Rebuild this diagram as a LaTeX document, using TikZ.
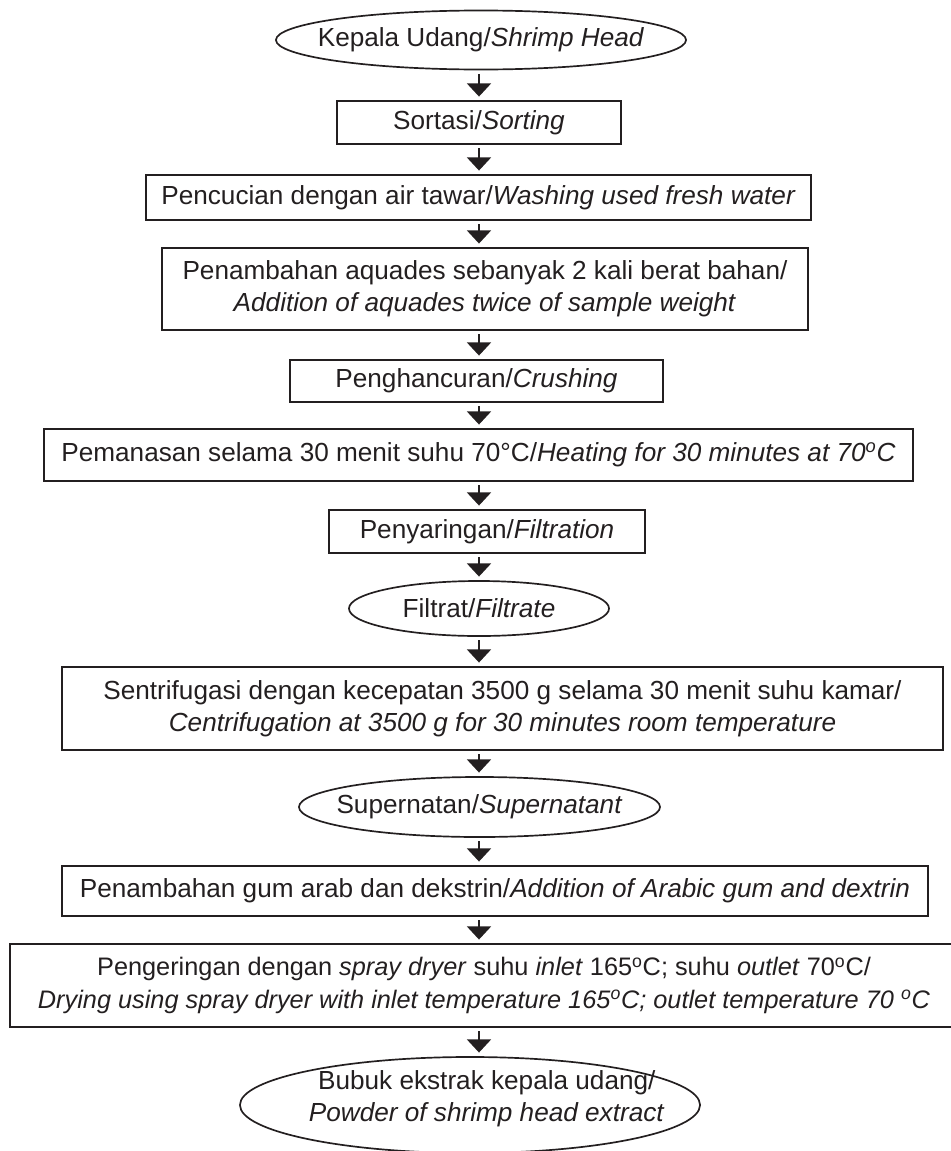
\documentclass[tikz,border=0pt]{standalone}
\usepackage{fontspec}
\setmainfont{Liberation Sans}
\usetikzlibrary{arrows.meta,shapes.geometric}
\definecolor{ink}{HTML}{231F20}

\begin{document}
\begin{tikzpicture}[x=0.025cm,y=-0.025cm,
    every node/.style={font=\fontsize{18.6}{23}\selectfont, text=ink, align=center, inner sep=0pt},
    stepbox/.style={draw=ink, line width=1.2pt, rectangle},
    endbox/.style={draw=ink, line width=1.2pt, ellipse},
    flow/.style={-{Triangle[width=0.6cm,length=0.33cm]}, draw=ink, line width=1.5pt,
        shorten <=0.9mm, shorten >=0.9mm}]
    \useasboundingbox (0,0) rectangle (951,1151);
    \coordinate (axis) at (479,0);

    % Steps, top to bottom
    \node[endbox, minimum width=10.25cm, minimum height=1.475cm,
        label={center:Kepala Udang/\textit{Shrimp Head}}] (head) at (481,40) {};
    \node[stepbox, minimum width=7.1cm, minimum height=1.075cm] (sort) at (479,122.5)
        {Sortasi/\textit{Sorting}};
    \node[stepbox, minimum width=16.625cm, minimum height=1.125cm] (wash) at (478.5,197.5)
        {Pencucian dengan air tawar/\textit{Washing used fresh water}};
    \node[stepbox, minimum width=16.15cm, minimum height=2.05cm] (aqua) at (485,289)
        {Penambahan aquades sebanyak 2 kali berat bahan/\\
         \textit{Addition of aquades twice of sample weight}};
    \node[stepbox, minimum width=9.325cm, minimum height=1.05cm] (crush) at (476.5,381)
        {Penghancuran/\textit{Crushing}};
    \node[stepbox, minimum width=21.725cm, minimum height=1.3cm] (heat) at (478.5,455)
        {Pemanasan selama 30 menit suhu 70°C/\textit{Heating for 30 minutes at 70\textsuperscript{o}C}};
    \node[stepbox, minimum width=7.9cm, minimum height=1.075cm] (filt) at (487,531.5)
        {Penyaringan/\textit{Filtration}};
    \node[endbox, minimum width=6.5cm, minimum height=1.375cm,
        label={center:Filtrat/\textit{Filtrate}}] (filtrate) at (479,608.5) {};
    \node[stepbox, minimum width=22.025cm, minimum height=2.075cm] (centri) at (502.5,708.5)
        {Sentrifugasi dengan kecepatan 3500 g selama 30 menit suhu kamar/\\
         \textit{Centrifugation at 3500 g for 30 minutes room temperature}};
    \node[endbox, minimum width=9.025cm, minimum height=1.5cm,
        label={center:Supernatan/\textit{Supernatant}}] (supern) at (479.5,807) {};
    \node[stepbox, minimum width=21.65cm, minimum height=1.25cm] (gum) at (495,891)
        {Penambahan gum arab dan dekstrin/\textit{Addition of Arabic gum and dextrin}};
    \node[stepbox, minimum width=23.7cm, minimum height=2.075cm,
        font=\fontsize{18}{23}\selectfont] (dry) at (484,985.5)
        {Pengeringan dengan \textit{spray dryer} suhu \textit{inlet} 165\textsuperscript{o}C; suhu \textit{outlet} 70\textsuperscript{o}C/\\
         \textit{Drying using spray dryer with inlet temperature 165\textsuperscript{o}C; outlet temperature 70 \textsuperscript{o}C}};
    \node[endbox, minimum width=11.5cm, minimum height=2.4cm,
        label={[xshift=0.42cm, yshift=0.15cm]center:Bubuk ekstrak kepala udang/\\ \textit{Powder of shrimp head extract}}]
        (powder) at (470,1105) {};

    % Arrows
    \draw[flow] (axis |- head.south) -- (axis |- sort.north);
    \draw[flow] (axis |- sort.south) -- (axis |- wash.north);
    \draw[flow] (axis |- wash.south) -- (axis |- aqua.north);
    \draw[flow] (axis |- aqua.south) -- (axis |- crush.north);
    \draw[flow] (axis |- crush.south) -- (axis |- heat.north);
    \draw[flow] (axis |- heat.south) -- (axis |- filt.north);
    \draw[flow] (axis |- filt.south) -- (axis |- filtrate.north);
    \draw[flow] (axis |- filtrate.south) -- (axis |- centri.north);
    \draw[flow] (axis |- centri.south) -- (axis |- supern.north);
    \draw[flow] (axis |- supern.south) -- (axis |- gum.north);
    \draw[flow] (axis |- gum.south) -- (axis |- dry.north);
    \draw[flow] (axis |- dry.south) -- (axis |- powder.north);
\end{tikzpicture}
\end{document}
